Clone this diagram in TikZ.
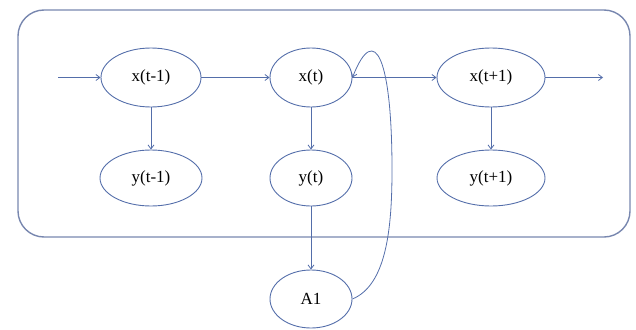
\documentclass[tikz,border=0pt]{standalone}
\usepackage{fontspec}
\setmainfont{Liberation Serif}
\usetikzlibrary{arrows.meta,shapes.geometric}
\definecolor{linec}{RGB}{84,110,170}
\definecolor{boxc}{RGB}{120,135,175}
\begin{document}
\begin{tikzpicture}[x=1pt,y=-1pt,
  st/.style={draw=linec,line width=0.9pt,ellipse,minimum width=#1,minimum height=59pt,inner sep=0pt,font=\fontsize{17}{19}\selectfont},
  st/.default=100pt,
  arr/.style={draw=linec,line width=0.8pt,-{Straight Barb[length=4pt,width=6pt]}}]
\useasboundingbox (0,0) rectangle (636,329);
\draw[boxc,line width=1.4pt,rounded corners=26pt] (18,10) rectangle (630,237);
\node[st=100pt] (xa) at (151,77.5) {x(t-1)};
\node[st=82pt] (xb) at (311,77.5) {x(t)};
\node[st=108pt] (xc) at (491,77.5) {x(t+1)};
\node[st=102pt,minimum height=56pt] (ya) at (151,178) {y(t-1)};
\node[st=82pt,minimum height=56pt] (yb) at (311,178) {y(t)};
\node[st=108pt,minimum height=56pt] (yc) at (491,178) {y(t+1)};
\node[st=82pt,minimum height=58pt] (a1) at (311,299) {A1};
\coordinate (in) at (58,77.5);
\coordinate (out) at (603,77.5);
\path[arr] (in) -- (xa);
\path[arr] (xa) -- (xb);
\path[arr] (xb) -- (xc);
\path[arr] (xc) -- (out);
\path[arr] (xa) -- (ya);
\path[arr] (xb) -- (yb);
\path[arr] (xc) -- (yc);
\path[arr] (yb) -- (a1);
\path[arr] (a1.east) .. controls (386,285) and (392,230) .. (392,170)
   .. controls (392,60) and (375,20) .. (xb.east);
\end{tikzpicture}
\end{document}
